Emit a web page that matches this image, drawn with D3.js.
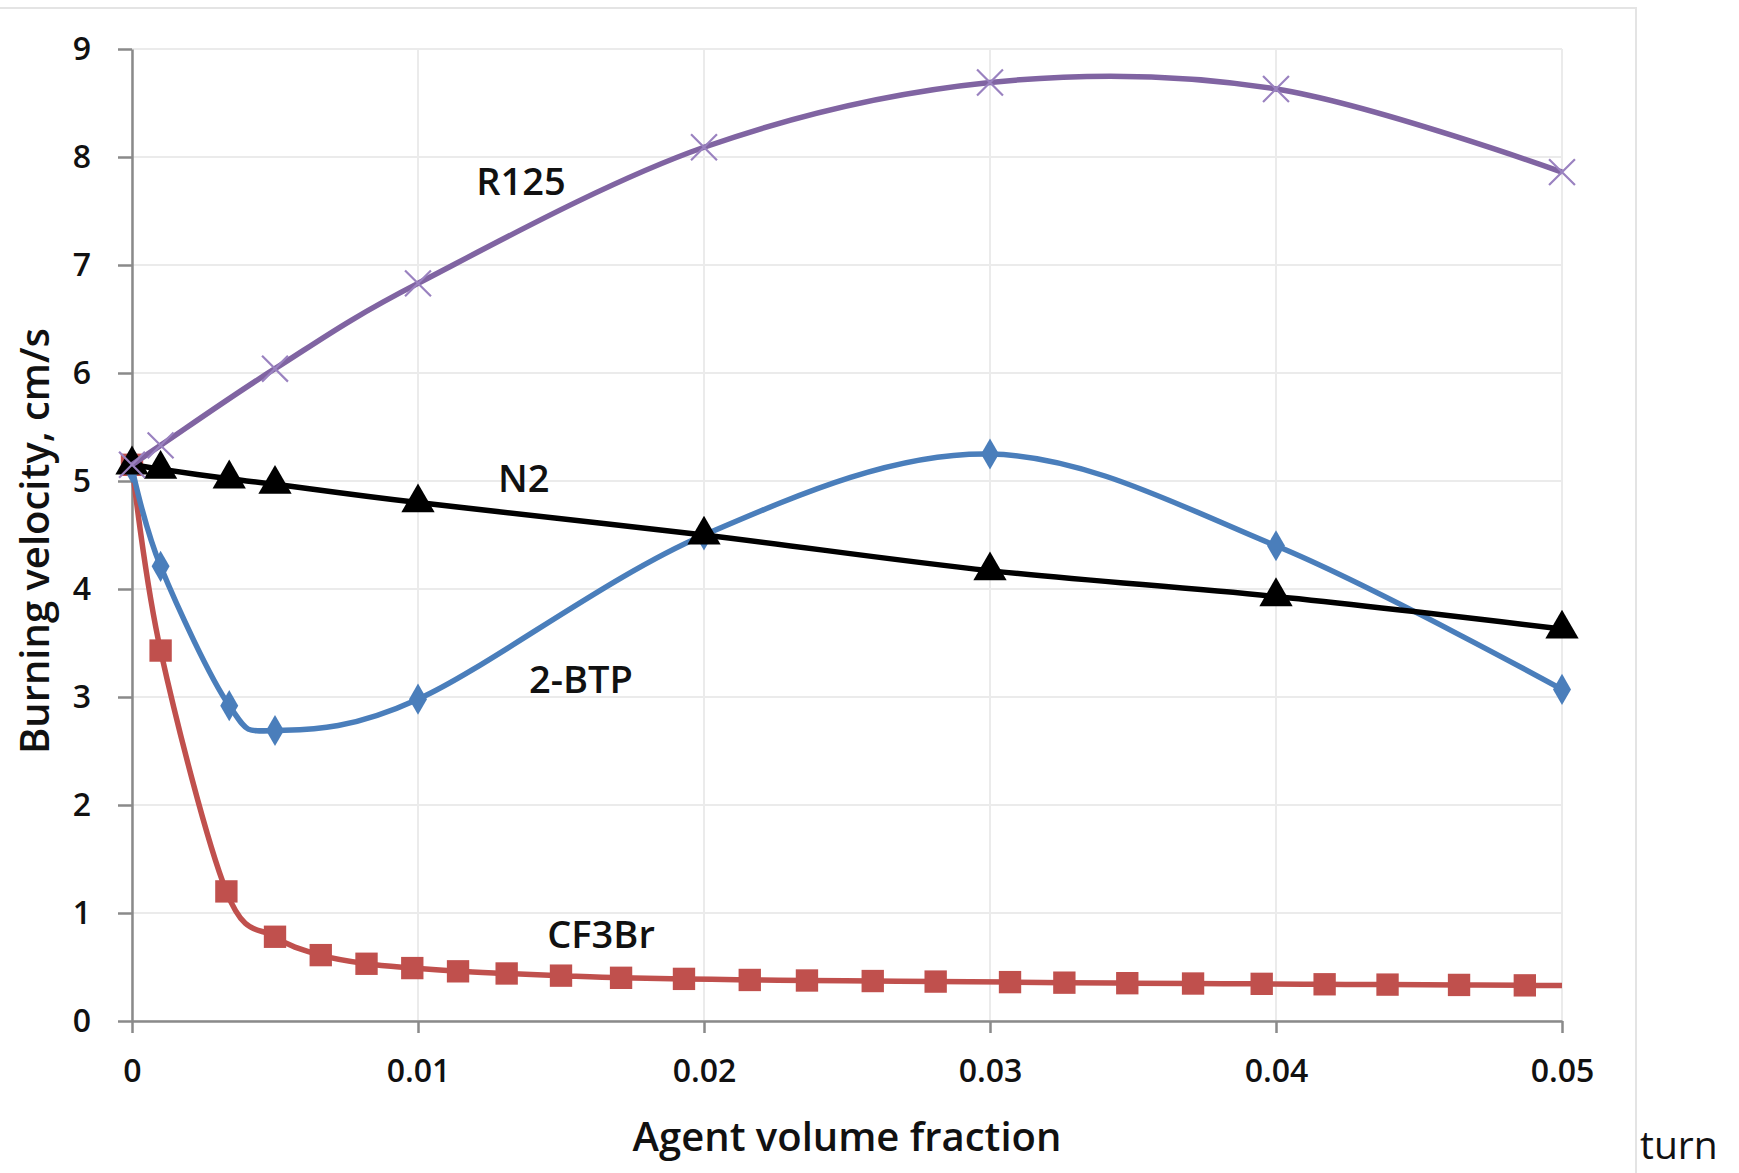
<!DOCTYPE html>
<html>
<head>
<meta charset="utf-8">
<script src="https://cdn.jsdelivr.net/npm/d3@7"></script>
<style>
  body { margin: 0; background: #fff; }
  svg { display: block; }
  text { font-family: "Open Sans", "Noto Sans", sans-serif; fill: #111; }
</style>
</head>
<body>
<div id="chart"></div>
<script>
// data
const xR125 = [0, 0.001, 0.005, 0.01, 0.02, 0.03, 0.04, 0.05];
const r125 = [5.15, 5.33, 6.04, 6.83, 8.09, 8.69, 8.63, 7.86];

const xN2 = [0, 0.001, 0.0034, 0.005, 0.01, 0.02, 0.03, 0.04, 0.05];
const n2 = [5.15, 5.11, 5.02, 4.97, 4.8, 4.5, 4.17, 3.93, 3.63];

const xBTP = [0, 0.001, 0.0034, 0.005, 0.01, 0.02, 0.03, 0.04, 0.05];
const btp = [5.12, 4.21, 2.92, 2.69, 2.98, 4.5, 5.25, 4.4, 3.07];

const xCF3Br = [0, 0.001, 0.0033, 0.005, 0.0066, 0.0082, 0.0098, 0.0114, 0.0131,
  0.015, 0.0171, 0.0193, 0.0216, 0.0236, 0.0259, 0.0281, 0.0307, 0.0326, 0.0348,
  0.0371, 0.0395, 0.0417, 0.0439, 0.0464, 0.0487, 0.05];
const cf3br = [5.15, 3.43, 1.2, 0.78, 0.61, 0.53, 0.49, 0.46, 0.44,
  0.42, 0.4, 0.39, 0.38, 0.375, 0.37, 0.365, 0.36, 0.355, 0.35,
  0.347, 0.344, 0.34, 0.337, 0.334, 0.33, 0.328];

const xTicks = [0, 0.01, 0.02, 0.03, 0.04, 0.05];
const xTickLabels = ["0", "0.01", "0.02", "0.03", "0.04", "0.05"];
const yTicks = [0, 1, 2, 3, 4, 5, 6, 7, 8, 9];

const seriesNames = ["CF3Br", "2-BTP", "N2", "R125"];

const drawChart = () => {
  const width = 1739;
  const height = 1173;
  const margin = { top: 49, right: 177, bottom: 152, left: 132 };

  const svg = d3
    .select("#chart")
    .append("svg")
    .attr("width", width)
    .attr("height", height);

  // faint frame of the pasted chart
  svg
    .append("rect")
    .attr("x", -4)
    .attr("y", 8)
    .attr("width", 1640)
    .attr("height", 1200)
    .attr("fill", "none")
    .attr("stroke", "#e4e4e4")
    .attr("stroke-width", 2);

  const x = d3
    .scaleLinear()
    .domain([0, 0.05])
    .range([margin.left, width - margin.right]);

  const y = d3
    .scaleLinear()
    .domain([0, 9])
    .range([height - margin.bottom, margin.top]);

  // gridlines
  svg
    .append("g")
    .selectAll("line")
    .data(yTicks)
    .enter()
    .append("line")
    .attr("x1", x(0))
    .attr("x2", x(0.05))
    .attr("y1", (d) => y(d))
    .attr("y2", (d) => y(d))
    .attr("stroke", "#ebebeb")
    .attr("stroke-width", 2);

  svg
    .append("g")
    .selectAll("line")
    .data(xTicks)
    .enter()
    .append("line")
    .attr("x1", (d) => x(d))
    .attr("x2", (d) => x(d))
    .attr("y1", y(0))
    .attr("y2", y(9))
    .attr("stroke", "#ebebeb")
    .attr("stroke-width", 2);

  // axes
  const yAxis = svg
    .append("g")
    .attr("transform", `translate(${x(0)},0)`)
    .call(
      d3.axisLeft(y).tickValues(yTicks).tickSize(14).tickSizeOuter(0).tickPadding(27)
    );

  const xAxis = svg
    .append("g")
    .attr("transform", `translate(0,${y(0)})`)
    .call(
      d3
        .axisBottom(x)
        .tickValues(xTicks)
        .tickFormat((d, i) => xTickLabels[i])
        .tickSize(12)
        .tickSizeOuter(0)
        .tickPadding(26)
    );

  [xAxis, yAxis].forEach((g) => {
    g.select(".domain").attr("stroke", "#8a8a8a").attr("stroke-width", 2.5);
    g.selectAll(".tick line").attr("stroke", "#8a8a8a").attr("stroke-width", 2.5);
    g.selectAll(".tick text")
      .attr("fill", "#111")
      .style("font-family", '"Open Sans", sans-serif')
      .style("font-size", "32px")
      .style("font-weight", 600);
  });

  // series
  const series = [
    { name: "CF3Br", xs: xCF3Br, ys: cf3br, color: "#c0504d", marker: "square", skipLast: true },
    { name: "2-BTP", xs: xBTP, ys: btp, color: "#4a7ebb", marker: "diamond" },
    { name: "N2", xs: xN2, ys: n2, color: "#000000", marker: "triangle" },
    { name: "R125", xs: xR125, ys: r125, color: "#8064a2", marker: "cross" },
  ];

  const line = d3
    .line()
    .x((d) => x(d[0]))
    .y((d) => y(d[1]))
    .curve(d3.curveCardinal.tension(0));

  const symbols = {
    square: d3.symbol().type(d3.symbolSquare).size(500),
    diamond: d3.symbol().type(d3.symbolDiamond).size(280),
    triangle: d3.symbol().type(d3.symbolTriangle).size(480),
    cross: d3.symbol().type(d3.symbolX).size(440),
  };

  series.forEach((s) => {
    const pts = s.xs.map((v, i) => [v, s.ys[i]]);

    svg
      .append("path")
      .datum(pts)
      .attr("d", line)
      .attr("fill", "none")
      .attr("stroke", s.color)
      .attr("stroke-width", 5.5)
      .attr("stroke-linejoin", "round");

    const markerPts = s.skipLast ? pts.slice(0, -1) : pts;

    svg
      .append("g")
      .selectAll("path")
      .data(markerPts)
      .enter()
      .append("path")
      .attr("d", symbols[s.marker])
      .attr("transform", (d) => `translate(${x(d[0])},${y(d[1])})`)
      .attr("fill", s.marker === "cross" ? "none" : s.color)
      .attr("stroke", s.marker === "cross" ? "#9a82c0" : "none")
      .attr("stroke-width", 2.2);
  });

  // series labels
  const labelPos = {
    R125: [0.0136, 7.65],
    N2: [0.0137, 4.9],
    "2-BTP": [0.0157, 3.04],
    CF3Br: [0.0164, 0.68],
  };

  svg
    .append("g")
    .selectAll("text")
    .data(seriesNames)
    .enter()
    .append("text")
    .attr("x", (d) => x(labelPos[d][0]))
    .attr("y", (d) => y(labelPos[d][1]))
    .attr("text-anchor", "middle")
    .style("font-size", "38px")
    .style("font-weight", 600)
    .text((d) => d);

  // axis titles
  svg
    .append("text")
    .attr("x", (x(0) + x(0.05)) / 2)
    .attr("y", 1151)
    .attr("text-anchor", "middle")
    .style("font-size", "40px")
    .style("font-weight", 600)
    .text("Agent volume fraction");

  svg
    .append("text")
    .attr("transform", `translate(49,${(y(0) + y(9)) / 2 + 6}) rotate(-90)`)
    .attr("text-anchor", "middle")
    .style("font-size", "40px")
    .style("font-weight", 600)
    .text("Burning velocity, cm/s");

  // stray word from the page next to the chart
  svg
    .append("text")
    .attr("x", 1640)
    .attr("y", 1159)
    .style("font-size", "39px")
    .style("font-weight", 400)
    .text("turn");
};

drawChart();
</script>
</body>
</html>
